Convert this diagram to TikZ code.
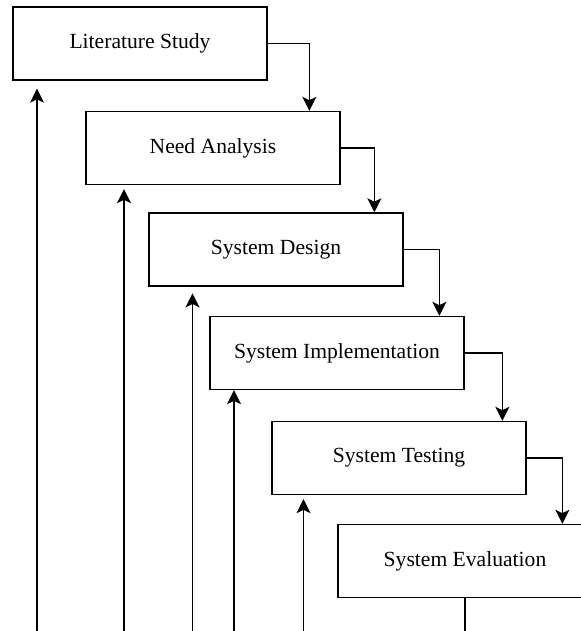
\documentclass[tikz,border=0pt]{standalone}
\usepackage{fontspec}
\setmainfont{Liberation Serif}
\usetikzlibrary{arrows.meta}
\begin{document}
\begin{tikzpicture}[x=0.75pt,y=-0.75pt,
  stage/.style={draw=black,line width=1pt,minimum width=190.5pt,minimum height=54.75pt,
    inner sep=0pt,font=\fontsize{16.2pt}{19pt}\selectfont,fill=white},
  flow/.style={draw=black,line width=1pt,-{Stealth[length=10.5pt,width=10.5pt,inset=2.5pt]}},
  plain/.style={draw=black,line width=1pt}]
\useasboundingbox (0,0) rectangle (581,631);
\node[stage] (b1) at (140,43.5) {Literature Study};
\node[stage] (b2) at (213,148) {Need Analysis};
\node[stage] (b3) at (276,249.5) {System Design};
\node[stage] (b4) at (337,353) {System Implementation};
\node[stage] (b5) at (399,458) {System Testing};
\node[stage] (b6) at (465,561) {System Evaluation};
% forward connectors
\draw[flow] (b1.east) -| ([xshift=168pt]b2.north west);
\draw[flow] (b2.east) -| ([xshift=169.5pt]b3.north west);
\draw[flow] (b3.east) -| ([xshift=172.5pt]b4.north west);
\draw[flow] (b4.east) -| ([xshift=173.25pt]b5.north west);
\draw[flow] (b5.east) -| ([xshift=168.75pt]b6.north west);
% bottom line from evaluation
\coordinate (e6) at (465,631);
\draw[plain] (b6.south) -- (e6);
% feedback arrows
\coordinate (f1) at (37,631);
\coordinate (f2) at (124,631);
\coordinate (f3) at (192.5,631);
\coordinate (f4) at (234,631);
\coordinate (f5) at (303.5,631);
\draw[flow,shorten >=6pt] (f1) -- (f1 |- b1.south);
\draw[flow,shorten >=3pt] (f2) -- (f2 |- b2.south);
\draw[flow,shorten >=5pt] (f3) -- (f3 |- b3.south);
\draw[flow] (f4) -- (f4 |- b4.south);
\draw[flow,shorten >=3pt] (f5) -- (f5 |- b5.south);
\end{tikzpicture}
\end{document}
